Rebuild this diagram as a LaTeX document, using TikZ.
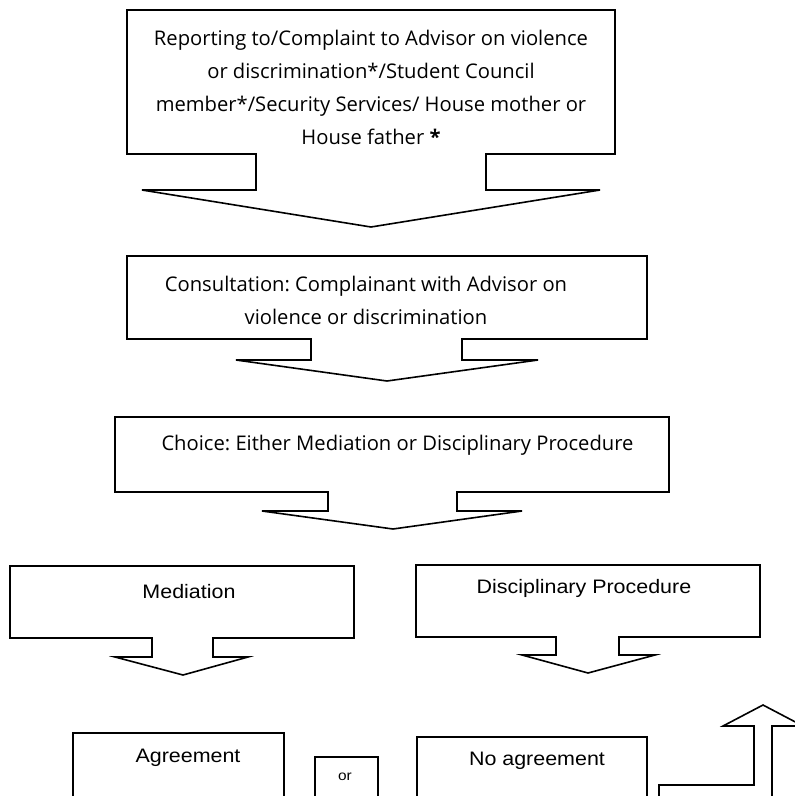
\documentclass[tikz,border=0pt]{standalone}
\usepackage{fontspec}
\setmainfont{Open Sans}
\newfontfamily\arialfont[FakeStretch=1.1]{Liberation Sans}
\frenchspacing
\begin{document}
\begin{tikzpicture}[x=1pt,y=-1pt,
  shapeline/.style={draw=black,line width=1.6pt,line join=miter,fill=white},
  segoe/.style={font=\frenchspacing\fontsize{20.2}{33}\selectfont,align=center,inner sep=0pt,text=black},
  arial/.style={font=\arialfont\fontsize{19.5}{23}\selectfont,inner sep=0pt,text=black},
  smallarial/.style={font=\arialfont\fontsize{14}{16}\selectfont,inner sep=0pt,text=black}]
\useasboundingbox (0,0) rectangle (795,796);
\clip (0,0) rectangle (795,796);
% callout 1
\draw[shapeline] (127,10) -- (615,10) -- (615,154) -- (486,154) -- (486,190) -- (600,190)
  -- (371,227) coordinate (tip1) -- (142,190) -- (256,190) -- (256,154) -- (127,154) -- cycle;
\node[segoe] (report) at (371,87) {Reporting to/Complaint to Advisor on violence\\or discrimination*/Student Council\\member*/Security Services/ House mother or\\House father \textbf{*}};
% callout 2
\draw[shapeline] (127,256) -- (647,256) -- (647,339) -- (462,339) -- (462,360) -- (538,360)
  -- (387,381) coordinate (tip2) -- (236,360) -- (311,360) -- (311,339) -- (127,339) -- cycle;
\node[segoe] (consult) at (366,300) {Consultation: Complainant with Advisor on\\violence or discrimination};
% callout 3
\draw[shapeline] (115,417) -- (669,417) -- (669,492) -- (457,492) -- (457,511) -- (522,511)
  -- (393,529) coordinate (tip3) -- (262,511) -- (328,511) -- (328,492) -- (115,492) -- cycle;
\node[segoe] (choice) at (397.5,445) {Choice: Either Mediation or Disciplinary Procedure};
% mediation
\draw[shapeline] (10,566) -- (354,566) -- (354,638) -- (213,638) -- (213,657) -- (248,657)
  -- (183,675) coordinate (tip4) -- (115,657) -- (152,657) -- (152,638) -- (10,638) -- cycle;
\node[arial] (mediation) at (189,592) {Mediation};
% disciplinary
\draw[shapeline] (416,565) -- (760,565) -- (760,637) -- (619,637) -- (619,655) -- (655,655)
  -- (588,673) coordinate (tip5) -- (522,655) -- (556,655) -- (556,637) -- (416,637) -- cycle;
\node[arial] (disc) at (584,588) {Disciplinary Procedure};
% bottom boxes
\draw[shapeline] (73,810) -- (73,733) -- (284,733) -- (284,810);
\node[arial] (agree) at (188,758) {Agreement};
\draw[shapeline] (315,810) -- (315,757) -- (378,757) -- (378,810);
\node[smallarial] (or) at (345,777) {or};
\draw[shapeline] (417,810) -- (417,737) -- (647,737) -- (647,810);
\node[arial] (noagree) at (537,761) {No agreement};
% bent up arrow
\draw[shapeline,fill=none] (659,810) -- (659,785) -- (754,785) -- (754,726) -- (723,726)
  -- (763,705) coordinate (uptip) -- (803,726) -- (772,726) -- (772,810);
\end{tikzpicture}
\end{document}
